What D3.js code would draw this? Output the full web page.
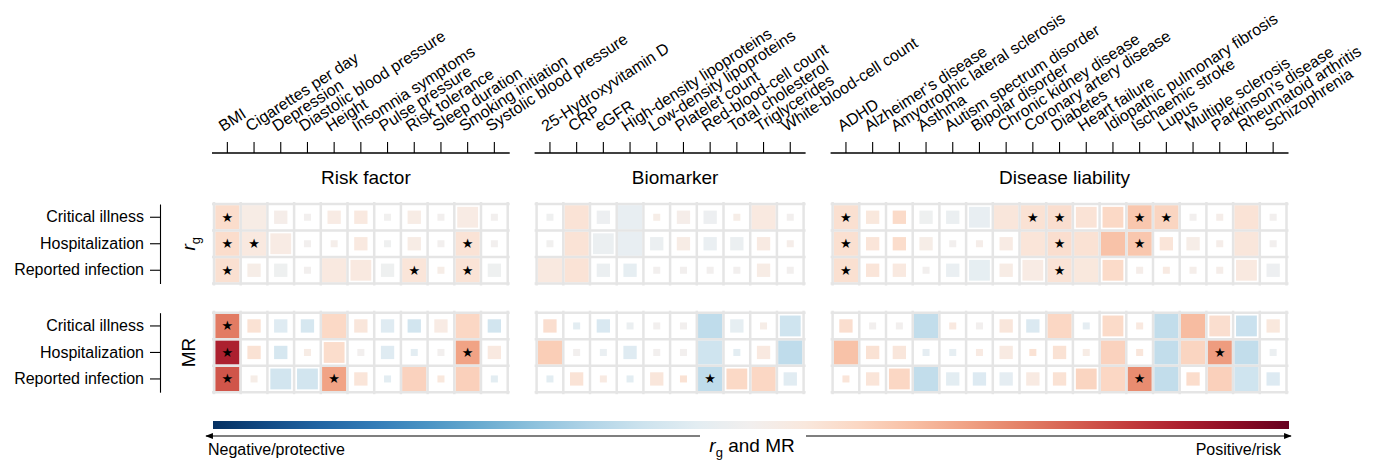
<!DOCTYPE html>
<html>
<head>
<meta charset="utf-8">
<script src="https://cdn.jsdelivr.net/npm/d3@7"></script>
<style>
  body { margin: 0; background: #fff; }
  text { font-family: "Liberation Sans", Arial, sans-serif; }
</style>
</head>
<body>
<div id="chart"></div>
<script>
const riskFactors = ['BMI', 'Cigarettes per day', 'Depression', 'Diastolic blood pressure', 'Height',
  'Insomnia symptoms', 'Pulse pressure', 'Risk tolerance', 'Sleep duration', 'Smoking initiation',
  'Systolic blood pressure'];
const biomarkers = ['25-Hydroxyvitamin D', 'CRP', 'eGFR', 'High-density lipoproteins', 'Low-density lipoproteins',
  'Platelet count', 'Red-blood-cell count', 'Total cholesterol', 'Triglycerides', 'White-blood-cell count'];
const diseases = ['ADHD', 'Alzheimer\u2019s disease', 'Amyotrophic lateral sclerosis', 'Asthma',
  'Autism spectrum disorder', 'Bipolar disorder', 'Chronic kidney disease', 'Coronary artery disease',
  'Diabetes', 'Heart failure', 'Idiopathic pulmonary fibrosis', 'Ischaemic stroke', 'Lupus',
  'Multiple sclerosis', 'Parkinson\u2019s disease', 'Rheumatoid arthritis', 'Schizophrenia'];
const outcomes = ['Critical illness', 'Hospitalization', 'Reported infection'];

// p-value levels (A = significant after correction, starred)
const A = 0.0001, B = 0.005, C = 0.03, D = 0.2, E = 0.7;

// genetic correlation (rg)
const rgRisk = [
  [0.17, 0.06, 0.04, 0.0, 0.07, 0.09, -0.01, 0.06, 0.0, 0.07, 0.0],
  [0.17, 0.09, 0.07, 0.0, 0.03, 0.09, -0.02, 0.06, 0.0, 0.13, 0.0],
  [0.15, 0.05, -0.03, 0.0, 0.09, 0.09, -0.03, 0.12, 0.05, 0.13, -0.03]];
const rgRiskP = [
  [A, B, D, E, D, D, E, D, E, C, E],
  [A, A, C, E, E, D, E, D, E, A, E],
  [A, D, D, E, B, C, D, A, E, A, D]];
const rgBio = [
  [-0.02, 0.13, -0.04, -0.07, 0.05, 0.04, -0.04, 0.05, 0.09, 0.0],
  [-0.01, 0.13, -0.05, -0.07, -0.05, 0.06, -0.06, -0.05, 0.08, 0.04],
  [0.09, 0.13, -0.05, -0.08, 0.0, 0.0, 0.0, 0.0, 0.06, 0.0]];
const rgBioP = [
  [E, B, D, B, E, D, D, E, B, E],
  [E, B, C, B, D, D, D, D, D, E],
  [B, B, D, D, E, E, E, E, D, E]];
const rgDis = [
  [0.15, 0.1, 0.18, -0.03, -0.05, -0.07, 0.11, 0.14, 0.16, 0.13, 0.19, 0.27, 0.21, 0.0, 0.04, 0.13, 0.0],
  [0.15, 0.12, 0.17, 0.05, 0.0, 0.04, 0.07, 0.12, 0.16, 0.14, 0.29, 0.27, 0.12, 0.05, 0.04, 0.11, 0.0],
  [0.15, 0.12, 0.09, 0.0, -0.06, -0.08, 0.06, 0.07, 0.13, 0.1, 0.18, 0.04, 0.08, 0.03, 0.04, 0.09, -0.04]];
const rgDisP = [
  [A, D, D, D, D, C, B, A, A, C, C, A, A, E, E, B, E],
  [A, D, D, D, E, E, D, B, A, B, B, A, D, D, E, B, E],
  [A, D, D, E, D, C, D, C, A, B, C, E, E, E, E, C, D]];

// Mendelian randomization (MR)
const mrRisk = [
  [0.52, 0.14, -0.12, -0.16, 0.19, 0.11, -0.12, -0.18, 0.07, 0.2, -0.18],
  [0.8, 0.14, -0.16, 0.06, 0.17, 0.0, -0.12, -0.1, 0.0, 0.4, 0.09],
  [0.63, 0.05, -0.18, -0.18, 0.4, 0.12, -0.1, 0.22, 0.1, 0.23, -0.1]];
const mrRiskP = [
  [A, D, D, D, B, D, D, D, D, B, D],
  [A, D, D, E, C, E, D, E, E, A, D],
  [A, E, C, C, A, D, E, B, E, B, E]];
const mrBio = [
  [0.16, -0.1, -0.15, -0.05, 0.0, 0.0, -0.25, -0.08, 0.05, -0.19],
  [0.24, 0.0, -0.06, -0.12, 0.0, 0.0, -0.19, -0.1, 0.09, -0.25],
  [-0.1, 0.13, 0.08, -0.1, 0.11, 0.14, -0.25, 0.19, 0.2, -0.11]];
const mrBioP = [
  [D, E, D, E, E, E, B, D, E, C],
  [B, E, E, D, E, E, B, E, D, B],
  [E, D, E, E, D, E, A, C, B, D]];
const mrDis = [
  [0.16, 0.0, 0.0, -0.24, 0.09, 0.0, 0.11, -0.14, 0.2, -0.09, 0.18, 0.09, -0.24, 0.31, 0.16, -0.21, 0.1],
  [0.29, 0.14, 0.11, -0.09, -0.08, 0.08, 0.08, 0.14, 0.14, 0.06, 0.22, 0.11, -0.24, 0.21, 0.42, -0.24, -0.05],
  [0.12, 0.12, 0.2, -0.24, -0.1, -0.13, -0.09, 0.08, 0.14, 0.21, 0.2, 0.47, -0.24, 0.17, 0.23, -0.19, -0.13]];
const mrDisP = [
  [D, E, E, B, E, E, D, D, B, E, C, E, B, B, C, C, D],
  [B, D, D, E, E, E, D, E, D, E, B, E, B, B, A, B, E],
  [E, D, C, B, D, D, D, D, D, C, B, A, B, D, B, B, D]];

const width = 1378, height = 463;
const cell = 26.7, rowH = 26.5, gridW = 2.5;

const svg = d3.select('#chart')
  .append('svg')
    .attr('width', width)
    .attr('height', height);

const color = d3.scaleDiverging([-1, 0, 1], t => d3.interpolateRdBu(1 - t));
const size = d3.scaleThreshold().domain([0.01, 0.05, 0.5]).range([1, 0.86, 0.55, 0.29]);

const groups = [
  { title: 'Risk factor', traits: riskFactors, x0: 214 },
  { title: 'Biomarker', traits: biomarkers, x0: 536.6 },
  { title: 'Disease liability', traits: diseases, x0: 832.6 },
];
groups.forEach(g => {
  g.x = d3.scaleBand().domain(g.traits).range([g.x0, g.x0 + cell * g.traits.length]);
});

const panels = [
  { name: 'rg', y0: 204, est: [rgRisk, rgBio, rgDis], p: [rgRiskP, rgBioP, rgDisP] },
  { name: 'MR', y0: 312.7, est: [mrRisk, mrBio, mrDis], p: [mrRiskP, mrBioP, mrDisP] },
];

// top axes with rotated trait names
groups.forEach(g => {
  const [a, b] = g.x.range();
  const ax = svg.append('g')
    .attr('transform', 'translate(0,153)')
    .call(d3.axisTop(g.x).tickSize(11).tickSizeOuter(0))
    .attr('font-size', null).attr('font-family', null);
  ax.select('.domain').attr('d', `M${a - 2},0H${b + 2}`).attr('stroke-width', 1.3);
  ax.selectAll('.tick line').attr('stroke-width', 1.1);
  ax.selectAll('.tick text')
    .attr('y', 0).attr('dy', 0)
    .attr('text-anchor', 'start')
    .attr('transform', 'translate(-4,-21) rotate(-33)')
    .style('font-size', '16px')
    .attr('fill', '#000');

  svg.append('text')
    .attr('x', (a + b) / 2 + 5)
    .attr('y', 184)
    .attr('text-anchor', 'middle')
    .style('font-size', '19px')
    .text(g.title);
});

panels.forEach(panel => {
  const y = d3.scaleBand().domain(outcomes).range([panel.y0, panel.y0 + rowH * outcomes.length]);
  const [y0, y1] = y.range();

  groups.forEach((g, gi) => {
    const layer = svg.append('g');
    const cells = [];
    outcomes.forEach((o, r) => {
      g.traits.forEach((t, c) => {
        cells.push({ trait: t, outcome: o, est: panel.est[gi][r][c], p: panel.p[gi][r][c] });
      });
    });

    const inner = cell - gridW;
    layer.selectAll('rect.sq')
      .data(cells)
      .join('rect')
        .attr('class', 'sq')
        .attr('width', d => inner * size(d.p))
        .attr('height', d => inner * size(d.p))
        .attr('x', d => g.x(d.trait) + cell / 2 - inner * size(d.p) / 2)
        .attr('y', d => y(d.outcome) + rowH / 2 - inner * size(d.p) / 2)
        .attr('fill', d => color(d.est));

    // grid
    const [a, b] = g.x.range();
    const xs = g.traits.map(t => g.x(t)).concat([b]);
    const ys = outcomes.map(o => y(o)).concat([y1]);
    layer.selectAll('line.v')
      .data(xs)
      .join('line')
        .attr('x1', d => d).attr('x2', d => d)
        .attr('y1', y0 - 2).attr('y2', y1 + 2)
        .attr('stroke', '#e5e5e5').attr('stroke-width', gridW);
    layer.selectAll('line.h')
      .data(ys)
      .join('line')
        .attr('x1', a - 2).attr('x2', b + 2)
        .attr('y1', d => d).attr('y2', d => d)
        .attr('stroke', '#e5e5e5').attr('stroke-width', gridW);

    layer.selectAll('text.star')
      .data(cells.filter(d => d.p < 0.001))
      .join('text')
        .attr('class', 'star')
        .attr('x', d => g.x(d.trait) + cell / 2)
        .attr('y', d => y(d.outcome) + rowH / 2 + 4.5)
        .attr('text-anchor', 'middle')
        .style('font-size', '13px')
        .style('font-family', 'DejaVu Sans')
        .text('\u2605');
  });

  // left axis
  const ax = svg.append('g')
    .attr('transform', 'translate(160,0)')
    .call(d3.axisLeft(y).tickSize(10).tickPadding(6).tickSizeOuter(0))
    .attr('font-size', null).attr('font-family', null);
  ax.selectAll('.tick text').style('font-size', '16px').attr('fill', '#000');
  ax.selectAll('.tick line, .domain').attr('stroke-width', 1.1);

  const lab = svg.append('text')
    .attr('transform', `translate(195,${(y0 + y1) / 2}) rotate(-90)`)
    .attr('text-anchor', 'middle')
    .style('font-size', '19px');
  if (panel.name === 'rg') {
    lab.append('tspan').style('font-style', 'italic').text('r');
    lab.append('tspan').attr('dy', 5).style('font-size', '13px').text('g');
  } else {
    lab.text('MR');
  }
});

// colour bar
const defs = svg.append('defs');
const grad = defs.append('linearGradient').attr('id', 'cbar');
d3.range(0, 1.0001, 0.05).forEach(t => {
  grad.append('stop').attr('offset', t).attr('stop-color', color(-1 + 2 * t));
});
svg.append('rect')
  .attr('x', 213).attr('y', 421)
  .attr('width', 1289 - 213).attr('height', 8)
  .attr('fill', 'url(#cbar)');

defs.append('marker')
  .attr('id', 'arrow')
  .attr('viewBox', '0 0 10 10')
  .attr('refX', 9).attr('refY', 5)
  .attr('markerWidth', 7).attr('markerHeight', 7)
  .attr('orient', 'auto')
  .append('path').attr('d', 'M0,1L10,5L0,9z').attr('fill', '#000');

svg.append('line')
  .attr('x1', 700).attr('x2', 206).attr('y1', 436).attr('y2', 436)
  .attr('stroke', '#000').attr('stroke-width', 1.1).attr('marker-end', 'url(#arrow)');
svg.append('line')
  .attr('x1', 806).attr('x2', 1291).attr('y1', 436).attr('y2', 436)
  .attr('stroke', '#000').attr('stroke-width', 1.1).attr('marker-end', 'url(#arrow)');

svg.append('text')
  .attr('x', 208).attr('y', 455)
  .style('font-size', '16px')
  .text('Negative/protective');
svg.append('text')
  .attr('x', 1281).attr('y', 455)
  .attr('text-anchor', 'end')
  .style('font-size', '16px')
  .text('Positive/risk');
const cap = svg.append('text')
  .attr('x', 752).attr('y', 452)
  .attr('text-anchor', 'middle')
  .style('font-size', '19px');
cap.append('tspan').style('font-style', 'italic').text('r');
cap.append('tspan').attr('dy', 5).style('font-size', '13px').text('g');
cap.append('tspan').attr('dy', -5).text(' and MR');
</script>
</body>
</html>
